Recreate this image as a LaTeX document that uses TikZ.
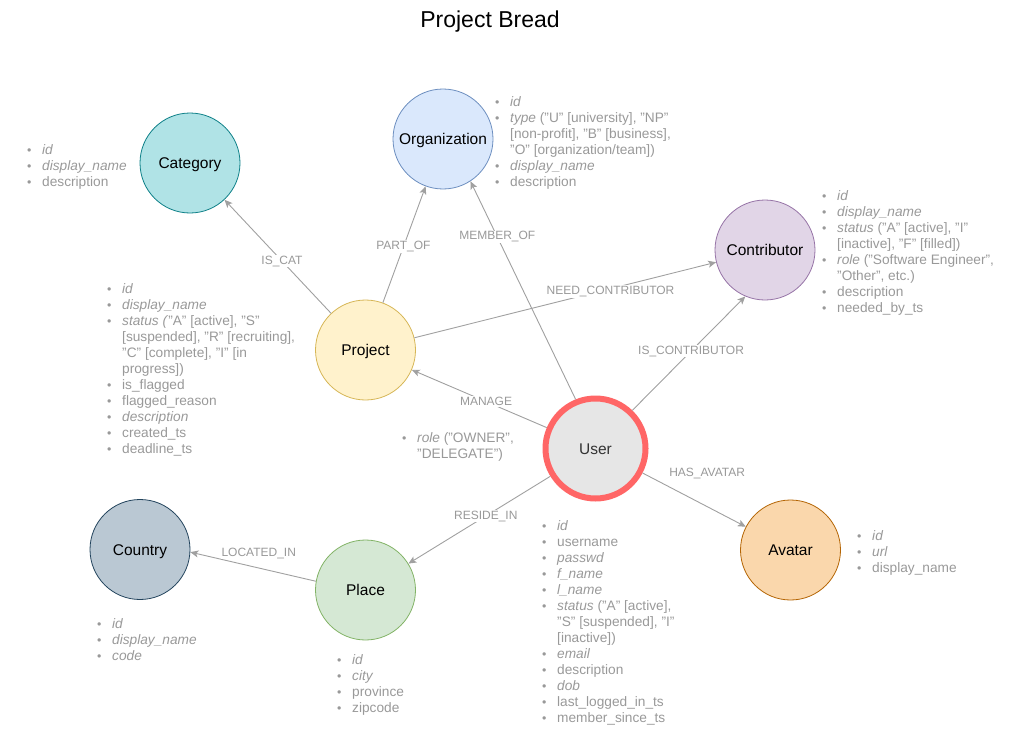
\documentclass[tikz,border=0pt]{standalone}
\usepackage{fontspec}
\setmainfont{Liberation Sans}
\usetikzlibrary{arrows.meta}
\definecolor{catfill}{HTML}{B0E3E6}\definecolor{catline}{HTML}{0E8088}
\definecolor{orgfill}{HTML}{DAE8FC}\definecolor{orgline}{HTML}{6C8EBF}
\definecolor{confill}{HTML}{E1D5E7}\definecolor{conline}{HTML}{9673A6}
\definecolor{prjfill}{HTML}{FFF2CC}\definecolor{prjline}{HTML}{D6B656}
\definecolor{usrfill}{HTML}{E6E6E6}\definecolor{usrline}{HTML}{FF6666}
\definecolor{ctyfill}{HTML}{BAC8D3}\definecolor{ctyline}{HTML}{23445D}
\definecolor{plcfill}{HTML}{D5E8D4}\definecolor{plcline}{HTML}{82B366}
\definecolor{avafill}{HTML}{FAD7AC}\definecolor{avaline}{HTML}{B46504}
\definecolor{attrgray}{HTML}{999999}
\definecolor{linegray}{HTML}{A0A0A0}
\definecolor{usertext}{HTML}{333333}
\newcommand{\bl}[1]{\strut\makebox[15pt][l]{\scalebox{0.9}{•}}#1}
\newcommand{\cl}[1]{\strut\hspace*{15pt}#1}
\begin{document}
\begin{tikzpicture}[x=1pt,y=-1pt,
  ent/.style={circle,minimum size=100pt,inner sep=0pt,line width=0.8pt,text height=11.1pt,text depth=0pt,font=\fontsize{15.5}{18}\selectfont},
  attr/.style={anchor=north west,inner sep=0pt,align=left,text=attrgray,font=\fontsize{13.7}{16}\selectfont},
  rel/.style={draw=linegray,line width=0.9pt,-{Stealth[length=8pt,width=7pt,inset=2pt]}},
  lbl/.style={fill=white,text=attrgray,inner sep=1pt,font=\fontsize{12}{14}\selectfont}]
\useasboundingbox (0,0) rectangle (1011,741);
\node[font=\fontsize{23}{26}\selectfont] (title) at (490,22) {Project Bread};

\node[ent,fill=catfill,draw=catline] (cat) at (190,163) {Category};
\node[ent,fill=orgfill,draw=orgline] (org) at (443,139) {Organization};
\node[ent,fill=confill,draw=conline] (contrib) at (765,250) {Contributor};
\node[ent,fill=prjfill,draw=prjline] (proj) at (365.5,350) {Project};
\node[ent,fill=usrfill,draw=usrline,line width=6pt,text=usertext] (user) at (595.5,448.5) {User};
\node[ent,fill=ctyfill,draw=ctyline] (country) at (140,549.5) {Country};
\node[ent,fill=plcfill,draw=plcline] (place) at (365.5,590) {Place};
\node[ent,fill=avafill,draw=avaline] (avatar) at (790.5,550) {Avatar};

\draw[rel] (proj) -- node[lbl,pos=0.46]{IS\_CAT} (cat);
\draw[rel] (proj) -- node[lbl,pos=0.48]{PART\_OF} (org);
\draw[rel] (user.112) -- node[lbl,pos=0.745]{MEMBER\_OF} (org.-57);
\draw[rel] (proj) -- node[lbl,pos=0.65,yshift=-3pt]{NEED\_CONTRIBUTOR} (contrib);
\draw[rel] (user.46) -- node[lbl,pos=0.52]{IS\_CONTRIBUTOR} (contrib.-113);
\draw[rel] (user) -- node[lbl,pos=0.45]{MANAGE} (proj);
\draw[rel] (user) -- node[lbl,pos=0.5,xshift=13pt,yshift=26pt]{HAS\_AVATAR} (avatar);
\draw[rel] (user) -- node[lbl,pos=0.455]{RESIDE\_IN} (place);
\draw[rel] (place.170) -- node[lbl,pos=0.455,yshift=15pt]{LOCATED\_IN} (country.-3);

\node[attr] (catattr) at (27,143.3) {\bl{\textit{id}}\\ \bl{\textit{display\_name}}\\ \bl{description}};
\node[attr] (orgattr) at (495,95.3) {\bl{\textit{id}}\\
 \bl{\textit{type} ("U" [university], "NP"}\\
 \cl{[non-profit], "B" [business],}\\
 \cl{"O" [organization/team])}\\
 \bl{\textit{display\_name}}\\
 \bl{description}};
\node[attr] (conattr) at (822,189.3) {\bl{\textit{id}}\\
 \bl{\textit{display\_name}}\\
 \bl{\textit{status} ("A" [active], "I"}\\
 \cl{[inactive], "F" [filled])}\\
 \bl{\textit{role} ("Software Engineer",}\\
 \cl{"Other", etc.)}\\
 \bl{description}\\
 \bl{needed\_by\_ts}};
\node[attr] (prjattr) at (107,282.3) {\bl{\textit{id}}\\
 \bl{\textit{display\_name}}\\
 \bl{\textit{status (}"A" [active], "S"}\\
 \cl{[suspended], "R" [recruiting],}\\
 \cl{"C" [complete], "I" [in}\\
 \cl{progress])}\\
 \bl{is\_flagged}\\
 \bl{flagged\_reason}\\
 \bl{\textit{description}}\\
 \bl{created\_ts}\\
 \bl{deadline\_ts}};
\node[attr] (manattr) at (402,431.3) {\bl{\textit{role} ("OWNER",}\\
 \cl{"DELEGATE")}};
\node[attr] (usrattr) at (542,519.3) {\bl{\textit{id}}\\
 \bl{username}\\
 \bl{\textit{passwd}}\\
 \bl{\textit{f\_name}}\\
 \bl{\textit{l\_name}}\\
 \bl{\textit{status} ("A" [active],}\\
 \cl{"S" [suspended], "I"}\\
 \cl{[inactive])}\\
 \bl{\textit{email}}\\
 \bl{description}\\
 \bl{\textit{dob}}\\
 \bl{last\_logged\_in\_ts}\\
 \bl{member\_since\_ts}};
\node[attr] (ctyattr) at (97,617) {\bl{\textit{id}}\\ \bl{\textit{display\_name}}\\ \bl{\textit{code}}};
\node[attr] (plcattr) at (337,653.3) {\bl{\textit{id}}\\ \bl{\textit{city}}\\ \bl{province}\\ \bl{zipcode}};
\node[attr] (avaattr) at (857,529.3) {\bl{\textit{id}}\\ \bl{\textit{url}}\\ \bl{display\_name}};
\end{tikzpicture}
\end{document}
